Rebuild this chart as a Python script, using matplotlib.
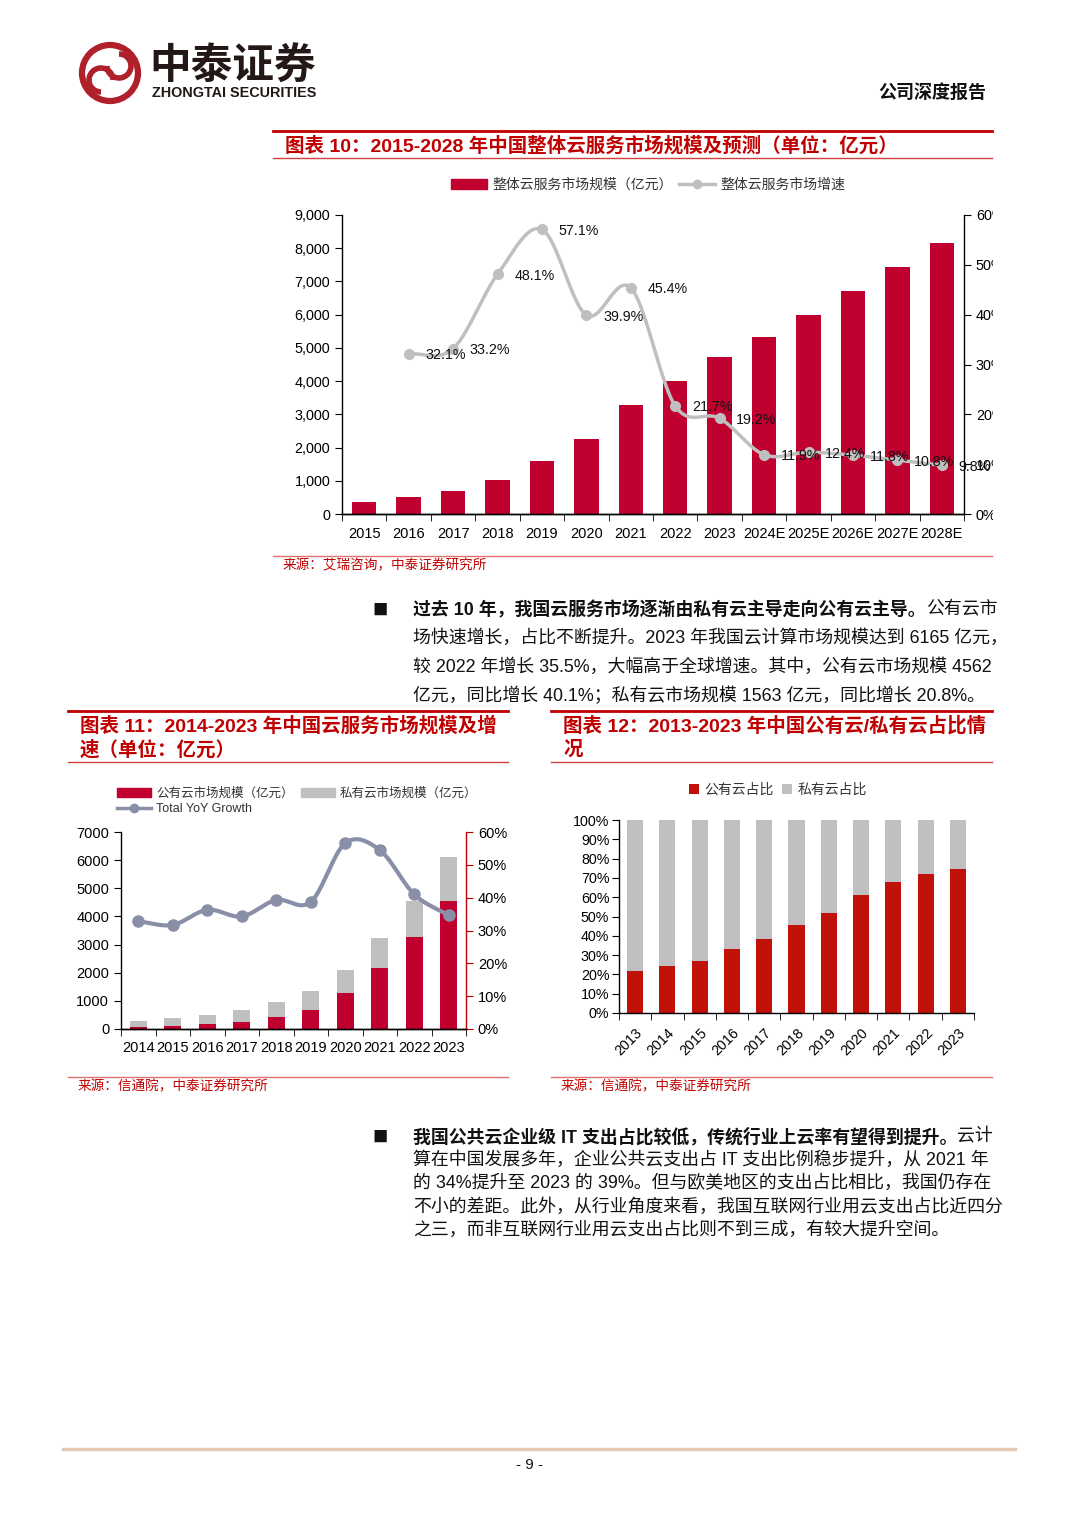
import numpy as np
import matplotlib
matplotlib.use('Agg')
import matplotlib.pyplot as plt
from matplotlib.patches import Patch, Circle, Arc
from matplotlib.lines import Line2D
from matplotlib.ticker import FuncFormatter
from matplotlib.transforms import Bbox

plt.rcParams['font.family'] = ['Liberation Sans', 'Noto Sans CJK SC']
plt.rcParams['axes.linewidth'] = 1.0

# ---- data: chart 10 (整体云服务市场规模, 亿元 / 增速 %)
years10 = ['2015', '2016', '2017', '2018', '2019', '2020', '2021',
           '2022', '2023', '2024E', '2025E', '2026E', '2027E', '2028E']
size10 = [370, 515, 690, 1020, 1610, 2255, 3280, 4000, 4740, 5330, 5990, 6710, 7440, 8170]
growth10 = [32.1, 33.2, 48.1, 57.1, 39.9, 45.4, 21.7, 19.2, 11.9, 12.4, 11.8, 10.8, 9.8]

# ---- data: chart 11 (公有云 / 私有云, 亿元; Total YoY %)
years11 = ['2014', '2015', '2016', '2017', '2018', '2019', '2020', '2021', '2022', '2023']
public11 = [70, 102, 170, 264, 437, 689, 1277, 2181, 3256, 4562]
private11 = [216, 275, 345, 426, 525, 645, 814, 1048, 1294, 1563]
growth11 = [32.8, 31.7, 36.3, 34.3, 39.3, 38.7, 56.6, 54.5, 41.0, 34.6]

# ---- data: chart 12 (公有云占比 / 私有云占比, %)
years12 = ['2013', '2014', '2015', '2016', '2017', '2018', '2019', '2020', '2021', '2022', '2023']
public12 = [21.8, 24.4, 27.2, 33.1, 38.3, 45.6, 51.6, 61.2, 67.8, 71.8, 74.5]
private12 = [78.2, 75.6, 72.8, 66.9, 61.7, 54.4, 48.4, 38.8, 32.2, 28.2, 25.5]

W, H = 1080, 1527
RED = '#C00000'
BAR_RED = '#C0002F'
GREY = '#BFBFBF'

fig = plt.figure(figsize=(W / 100, H / 100), dpi=100)

# page layer in pixel coordinates
page = fig.add_axes([0, 0, 1, 1])
page.set_xlim(0, W)
page.set_ylim(H, 0)
page.axis('off')


def axes_px(x0, y0, x1, y1):
    return fig.add_axes([x0 / W, 1 - y1 / H, (x1 - x0) / W, (y1 - y0) / H])


def smooth(x, y, n=20):
    # catmull-rom curve through the points (like excel's smoothed line)
    x = np.asarray(x, float)
    y = np.asarray(y, float)
    px = np.concatenate([[2 * x[0] - x[1]], x, [2 * x[-1] - x[-2]]])
    py = np.concatenate([[2 * y[0] - y[1]], y, [2 * y[-1] - y[-2]]])
    t = np.linspace(0, 1, n, endpoint=False)
    cx, cy = [], []
    for i in range(1, len(px) - 2):
        for p, out in ((px, cx), (py, cy)):
            p0, p1, p2, p3 = p[i - 1], p[i], p[i + 1], p[i + 2]
            out.extend(0.5 * (2 * p1 + (-p0 + p2) * t + (2 * p0 - 5 * p1 + 4 * p2 - p3) * t ** 2
                              + (-p0 + 3 * p1 - 3 * p2 + p3) * t ** 3))
    cx.append(x[-1])
    cy.append(y[-1])
    return np.array(cx), np.array(cy)


def cat_ticks(ax, labels, size, rot=0, pad=8):
    n = len(labels)
    ax.set_xlim(-0.5, n - 0.5)
    ax.set_xticks(range(n))
    if rot:
        ax.set_xticklabels(labels, fontsize=size, rotation=rot, ha='right', rotation_mode='anchor')
    else:
        ax.set_xticklabels(labels, fontsize=size)
    ax.set_xticks(np.arange(-0.5, n, 1), minor=True)
    ax.tick_params(axis='x', which='major', length=0, pad=pad)
    ax.tick_params(axis='x', which='minor', length=5, direction='out')


# ---------------- header ----------------
page.add_patch(Circle((110, 73), 28, fill=False, ec='#B0202A', lw=4.5))
page.add_patch(Arc((101, 80), 24, 24, theta1=90, theta2=360, ec='#B0202A', lw=4))
page.add_patch(Arc((119, 66), 24, 24, theta1=270, theta2=180, ec='#B0202A', lw=4))
page.text(149, 67, '中泰证券', fontsize=30, fontweight='bold', color='#231815', va='center',
          family=['Noto Sans CJK SC'])
page.text(152, 93, 'ZHONGTAI SECURITIES', fontsize=10.4, fontweight='bold', color='#231815',
          va='center')
page.text(986, 93, '公司深度报告', fontsize=13, fontweight='bold', color='#111111',
          ha='right', va='center')


def title_block(x0, x1, ytop, lines, ybot):
    page.plot([x0, x1], [ytop, ytop], color=RED, lw=2)
    for i, s in enumerate(lines):
        page.text(x0 + 12, ytop + 15 + 24 * i, s, fontsize=14, fontweight='bold', color=RED,
                  va='center')
    page.plot([x0, x1], [ybot, ybot], color='#D04040', lw=1)


def source_block(x0, x1, y, s):
    page.plot([x0, x1], [y, y], color='#E07070', lw=1)
    page.text(x0 + 10, y + 9, s, fontsize=9.8, color=RED, va='center')


title_block(273, 992, 131, ['图表 10：2015-2028 年中国整体云服务市场规模及预测（单位：亿元）'], 158)
source_block(273, 992, 556, '来源：艾瑞咨询，中泰证券研究所')
title_block(68, 508, 711, ['图表 11：2014-2023 年中国云服务市场规模及增', '速（单位：亿元）'], 762)
source_block(68, 508, 1077, '来源：信通院，中泰证券研究所')
title_block(551, 992, 711, ['图表 12：2013-2023 年中国公有云/私有云占比情', '况'], 762)
source_block(551, 992, 1077, '来源：信通院，中泰证券研究所')

# ---------------- chart 10 ----------------
ax = axes_px(342, 215, 964, 514)
x10 = np.arange(len(years10))
ax.bar(x10, size10, width=0.55, color=BAR_RED, zorder=2)
ax.set_ylim(0, 9000)
ax.set_yticks(range(0, 9001, 1000))
ax.yaxis.set_major_formatter(FuncFormatter(lambda v, p: f'{v:,.0f}'))
ax.tick_params(axis='y', labelsize=10.4, length=5, direction='out')
cat_ticks(ax, years10, 10.5, pad=9)
for s in ('top', 'right'):
    ax.spines[s].set_visible(False)

ax2 = ax.twinx()
ax2.set_ylim(0, 60)
ax2.set_yticks(range(0, 61, 10))
ax2.set_yticklabels([f'{v}%' for v in range(0, 61, 10)])
ax2.tick_params(axis='y', labelsize=10.4, length=5, direction='out')
ax2.spines['top'].set_visible(False)
ax2.spines['left'].set_visible(False)
gx = x10[1:]
cx, cy = smooth(gx, growth10)
ax2.plot(cx, cy, color=GREY, lw=2.5, zorder=3)
ax2.plot(gx, growth10, 'o', color=GREY, ms=7, zorder=4)
for xi, v in zip(gx, growth10):
    ax2.annotate(f'{v}%', (xi, v), xytext=(12, -1), textcoords='offset points',
                 ha='left', va='center', fontsize=10.3, color='#111111', zorder=5,
                 annotation_clip=False)
clip = Bbox.from_extents(0, 0, 993, H)
for t in ax2.get_yticklabels():
    t.set_clip_box(clip)
    t.set_clip_on(True)
for t in ax2.texts:
    t.set_clip_box(clip)
    t.set_clip_on(True)

h10 = [Patch(color=BAR_RED), Line2D([], [], color=GREY, lw=2.5, marker='o', ms=6)]
ax.legend(h10, ['整体云服务市场规模（亿元）', '整体云服务市场增速'], loc='center',
          bbox_to_anchor=(648 / W, 1 - 185 / H), bbox_transform=fig.transFigure, ncol=2,
          frameon=False, fontsize=10, handlelength=2.6, handletextpad=0.4, columnspacing=0.4,
          labelcolor='#333333')

# ---------------- paragraphs ----------------
def paragraph(y0, dy, bold, rest, lines):
    page.text(380, y0, '■', fontsize=11, va='center', ha='center', color='#111111',
              family=['Noto Sans CJK SC'])
    tb = page.text(413, y0, bold, fontsize=12.9, fontweight='bold', va='center', color='#111111')
    fig.canvas.draw()
    xend = tb.get_window_extent(fig.canvas.get_renderer()).x1
    page.text(xend, y0, rest, fontsize=12.9, va='center', color='#111111')
    for i, s in enumerate(lines):
        page.text(413, y0 + dy * (i + 1), s, fontsize=12.9, va='center', color='#111111')


paragraph(610, 28.5, '过去 10 年，我国云服务市场逐渐由私有云主导走向公有云主导。', '公有云市',
          ['场快速增长，占比不断提升。2023 年我国云计算市场规模达到 6165 亿元，',
           '较 2022 年增长 35.5%，大幅高于全球增速。其中，公有云市场规模 4562',
           '亿元，同比增长 40.1%；私有云市场规模 1563 亿元，同比增长 20.8%。'])

paragraph(1137, 23.3, '我国公共云企业级 IT 支出占比较低，传统行业上云率有望得到提升。', '云计',
          ['算在中国发展多年，企业公共云支出占 IT 支出比例稳步提升，从 2021 年',
           '的 34%提升至 2023 的 39%。但与欧美地区的支出占比相比，我国仍存在',
           '不小的差距。此外，从行业角度来看，我国互联网行业用云支出占比近四分',
           '之三，而非互联网行业用云支出占比则不到三成，有较大提升空间。'])

# ---------------- chart 11 ----------------
b = axes_px(121, 832, 466, 1029)
x11 = np.arange(len(years11))
b.bar(x11, public11, width=0.5, color=BAR_RED, zorder=2)
b.bar(x11, private11, width=0.5, bottom=public11, color=GREY, zorder=2)
b.set_ylim(0, 7000)
b.set_yticks(range(0, 7001, 1000))
b.tick_params(axis='y', labelsize=10.5, length=5, direction='out')
cat_ticks(b, years11, 10.5, pad=9)
for s in ('top', 'right'):
    b.spines[s].set_visible(False)
b2 = b.twinx()
b2.set_ylim(0, 60)
b2.set_yticks(range(0, 61, 10))
b2.set_yticklabels([f'{v}%' for v in range(0, 61, 10)])
b2.tick_params(axis='y', labelsize=10.5, length=5, direction='out', color=RED)
b2.spines['right'].set_color(RED)
b2.spines['top'].set_visible(False)
b2.spines['left'].set_visible(False)
cx, cy = smooth(x11, growth11)
b2.plot(cx, cy, color='#8A8FA8', lw=3, zorder=3)
b2.plot(x11, growth11, 'o', color='#8A8FA8', ms=8, zorder=4)
h11 = [Patch(color=BAR_RED), Line2D([], [], color='#8A8FA8', lw=2.5, marker='o', ms=6),
       Patch(color=GREY)]
b.legend(h11, ['公有云市场规模（亿元）', 'Total YoY Growth', '私有云市场规模（亿元）'],
         loc='upper left', bbox_to_anchor=(106 / W, 1 - 776 / H), bbox_transform=fig.transFigure,
         ncol=2, frameon=False, fontsize=9, handlelength=2.7, handletextpad=0.4,
         columnspacing=0.6, labelspacing=0.3, labelcolor='#333333')

# ---------------- chart 12 ----------------
c = axes_px(619, 820, 974, 1013)
x12 = np.arange(len(years12))
c.bar(x12, public12, width=0.5, color='#C0110A', zorder=2, label='公有云占比')
c.bar(x12, private12, width=0.5, bottom=public12, color=GREY, zorder=2, label='私有云占比')
c.set_ylim(0, 100)
c.set_yticks(range(0, 101, 10))
c.set_yticklabels([f'{v}%' for v in range(0, 101, 10)])
c.tick_params(axis='y', labelsize=10.3, length=5, direction='out', pad=2)
cat_ticks(c, years12, 10.3, rot=45, pad=9)
for s in ('top', 'right'):
    c.spines[s].set_visible(False)
c.legend(loc='center', bbox_to_anchor=(778 / W, 1 - 790 / H), bbox_transform=fig.transFigure,
         ncol=2, frameon=False, fontsize=10, handlelength=0.7, handleheight=0.7,
         handletextpad=0.4, columnspacing=0.6, labelcolor='#333333')

# ---------------- footer ----------------
page.plot([63, 1015], [1449, 1449], color='#E3C9B5', lw=2.5)
page.text(530, 1465, '- 9 -', fontsize=11, ha='center', va='center', color='#111111')

fig.savefig('out.png', dpi=100, facecolor='white')
